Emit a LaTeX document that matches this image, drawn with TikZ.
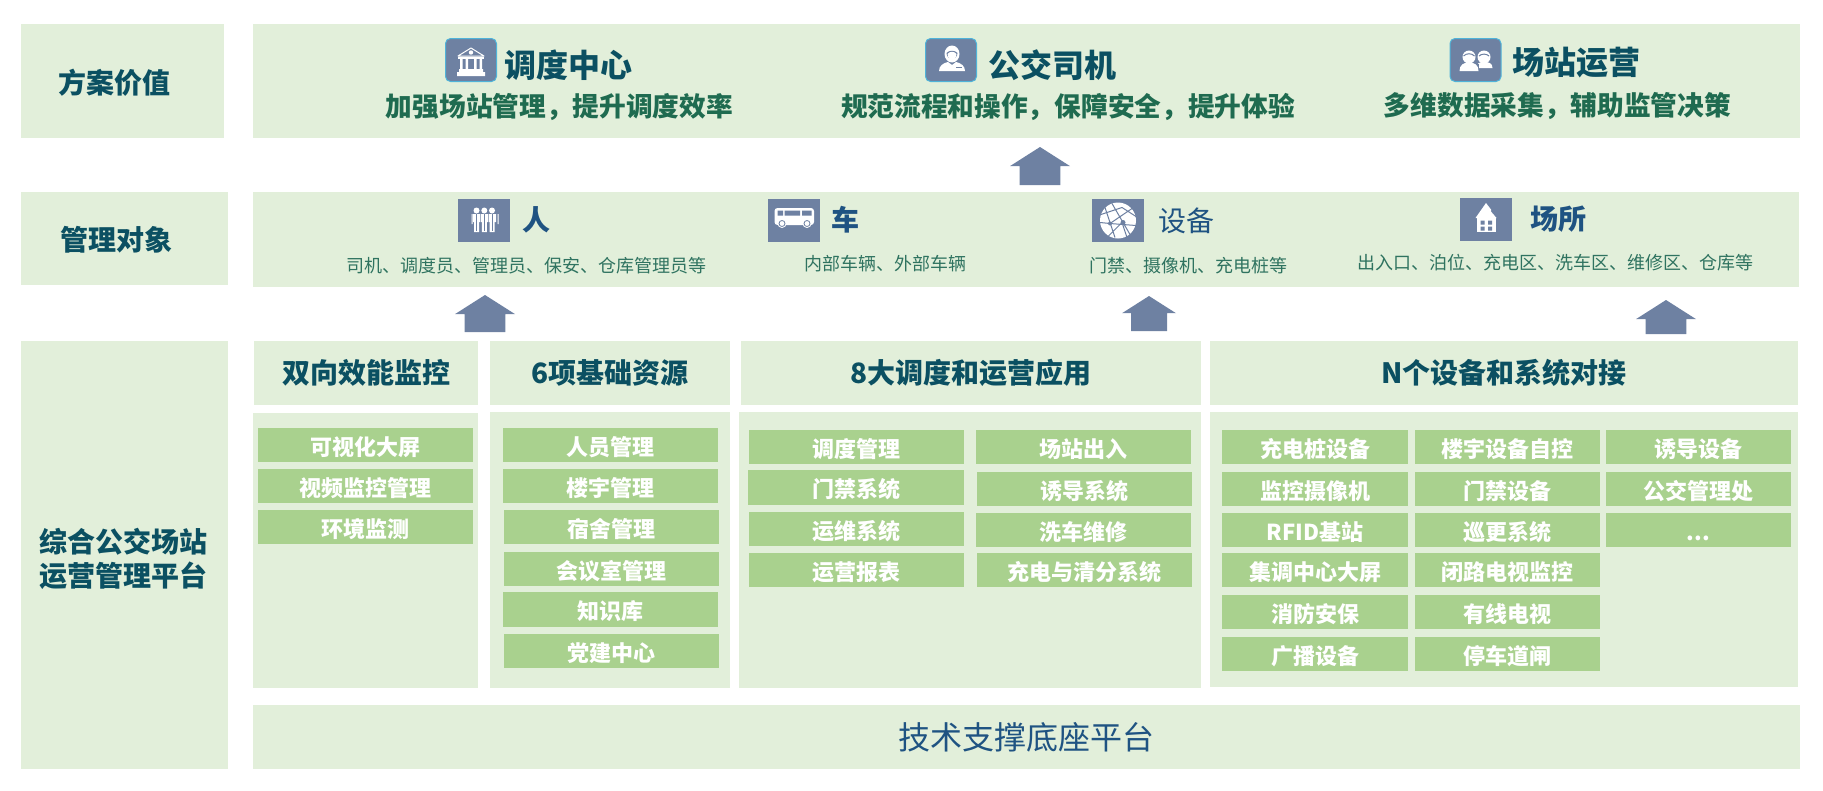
\documentclass[tikz,border=0pt]{standalone}
\usepackage{fontspec}
\setmainfont{Noto Sans CJK SC}
\usepackage{xcolor}
\usetikzlibrary{positioning}
\usetikzlibrary{shapes.arrows}
\definecolor{bandgreen}{HTML}{E2EFDA}
\definecolor{itemgreen}{HTML}{A9D18E}
\definecolor{slateblue}{HTML}{6E81A2}
\definecolor{iconedge}{HTML}{4FB3D9}
\definecolor{darkteal}{HTML}{0B5062}
\definecolor{deepgreen}{HTML}{1F6B50}
\definecolor{softgreen}{HTML}{2F7360}
\definecolor{titleblue}{HTML}{1F5382}

\begin{document}
\begin{tikzpicture}[
		x=1pt, y=-1pt,
		bandnode/.style={rectangle, fill=bandgreen, inner sep=0, outer sep=0},
		leftnode/.style={inner sep=0, text=darkteal, align=center, font=\fontsize{28pt}{34pt}\selectfont\bfseries},
		headnode/.style={bandnode, minimum height=64, text=darkteal, font=\fontsize{28pt}{34pt}\selectfont\bfseries},
		bodynode/.style={bandnode, minimum height=276},
		itemnode/.style={rectangle, fill=itemgreen, inner sep=0, outer sep=0, minimum height=34, text=white, text height=20pt, text depth=0pt, font=\fontsize{22pt}{26pt}\selectfont\bfseries},
		wideitem/.style={itemnode, minimum width=215},
		smallitem/.style={itemnode, minimum width=186},
		valueicon/.style={rectangle, rounded corners=5pt, fill=slateblue, draw=iconedge, line width=1pt, minimum width=51, minimum height=43, inner sep=0},
		objecticon/.style={rectangle, fill=slateblue, minimum width=52, minimum height=43, inner sep=0, outer sep=0},
		valuetitle/.style={inner sep=0, text=darkteal, font=\fontsize{32pt}{38pt}\selectfont\bfseries},
		valuetext/.style={inner sep=0, text=deepgreen, font=\fontsize{26.7pt}{32pt}\selectfont\bfseries},
		objecttitle/.style={inner sep=0, text=titleblue, font=\fontsize{28pt}{34pt}\selectfont\bfseries},
		objecttext/.style={inner sep=0, text=softgreen, font=\fontsize{18pt}{22pt}\selectfont},
		uparrow/.style={single arrow, shape border rotate=90, anchor=tip, fill=slateblue, inner xsep=15pt, inner ysep=0, outer sep=0, single arrow tip angle=115},
		]
		\useasboundingbox (0,0) rectangle (1823,790);

		%Left column
		\node[bandnode, minimum width=203, minimum height=114] (value-label)    at (122.5,81)  {};
		\node[bandnode, minimum width=207, minimum height=93]  (object-label)   at (124.5,238.5) {};
		\node[bandnode, minimum width=207, minimum height=428] (platform-label) at (124.5,555) {};
		\node[leftnode] (value-name)    at (114,83)    {方案价值};
		\node[leftnode] (object-name)   at (116,239.5) {管理对象};
		\node[leftnode] (platform-name) at (123.5,559) {综合公交场站\\运营管理平台};

		%Bands
		\node[bandnode, minimum width=1547, minimum height=114] (value-band)  at (1026.5,81)  {};
		\node[bandnode, minimum width=1546, minimum height=95]  (object-band) at (1026,239.5) {};
		\node[bandnode, minimum width=1547, minimum height=64, text=titleblue, font=\fontsize{32pt}{38pt}\selectfont] (base-band) at (1026.5,737) {技术支撑底座平台};

		%Value band
		\node[valueicon] (icon-dispatch) at (471,60)    {};
		\node[valueicon] (icon-driver)   at (951,60)    {};
		\node[valueicon] (icon-station)  at (1475.5,60) {};
		\node[valuetitle] (title-dispatch) [right=7pt of icon-dispatch, yshift=-5] {调度中心};
		\node[valuetitle] (title-driver)   [right=11pt of icon-driver, yshift=-5]  {公交司机};
		\node[valuetitle] (title-station)  [right=11pt of icon-station, yshift=-3]  {场站运营};
		\node[valuetext] (text-dispatch) at (559.5,107) {加强场站管理，提升调度效率};
		\node[valuetext] (text-driver)   at (1068,107)  {规范流程和操作，保障安全，提升体验};
		\node[valuetext] (text-station)  at (1557.5,106) {多维数据采集，辅助监管决策};

		%Object band
		\node[objecticon] (icon-people) at (483.5,220) {};
		\node[objecticon] (icon-bus)    at (794,220)   {};
		\node[objecticon] (icon-device) at (1118,220.5) {};
		\node[objecticon] (icon-place)  at (1486,219.5) {};
		\node[objecttitle] (title-people) [right=13pt of icon-people] {人};
		\node[objecttitle] (title-bus)    [right=11pt of icon-bus]    {车};
		\node[objecttitle, font=\fontsize{28pt}{34pt}\selectfont] (title-device) [right=14pt of icon-device] {设备};
		\node[objecttitle] (title-place)  [right=18pt of icon-place]  {场所};
		\node[objecttext] (text-people) at (526,266)  {司机、调度员、管理员、保安、仓库管理员等};
		\node[objecttext] (text-bus)    at (885,264)  {内部车辆、外部车辆};
		\node[objecttext] (text-device) at (1188.5,266) {门禁、摄像机、充电桩等};
		\node[objecttext] (text-place)  at (1555,263) {出入口、泊位、充电区、洗车区、维修区、仓库等};

		%Headers
		\node[headnode, minimum width=224] (head-monitor)  at (366,373)    {双向效能监控};
		\node[headnode, minimum width=240] (head-resource) at (610,373)    {6项基础资源};
		\node[headnode, minimum width=460] (head-apply)    at (971,373)    {8大调度和运营应用};
		\node[headnode, minimum width=588] (head-connect)  at (1504,373)   {N个设备和系统对接};

		%Bodies
		\node[bodynode, minimum width=225, minimum height=275] (body-monitor)  at (365.5,550.5) {};
		\node[bodynode, minimum width=240] (body-resource) at (610,550)     {};
		\node[bodynode, minimum width=462] (body-apply)    at (970,550)     {};
		\node[bodynode, minimum width=588, minimum height=275] (body-connect)  at (1504,549.5)  {};

		%Items, monitoring
		\node[wideitem] (monitor-1) at (365.5,445) {可视化大屏};
		\node[wideitem] (monitor-2) at (365.5,486) {视频监控管理};
		\node[wideitem] (monitor-3) at (365.5,527) {环境监测};

		%Items, resources
		\node[wideitem] (resource-1) at (610.5,445) {人员管理};
		\node[wideitem] (resource-2) at (610.5,486) {楼宇管理};
		\node[wideitem] (resource-3) at (611,527)   {宿舍管理};
		\node[wideitem] (resource-4) at (611,569)   {会议室管理};
		\node[wideitem, minimum height=35] (resource-5) at (610.5,609.5) {知识库};
		\node[wideitem] (resource-6) at (611.5,651) {党建中心};

		%Items, applications
		\node[wideitem] (apply-1) at (856.5,447)   {调度管理};
		\node[wideitem, minimum height=35, minimum width=216] (apply-2) at (856,487.5) {门禁系统};
		\node[wideitem] (apply-3) at (856.5,529)   {运维系统};
		\node[wideitem] (apply-4) at (856.5,570)   {运营报表};
		\node[wideitem] (apply-5) at (1083.5,447)  {场站出入};
		\node[wideitem] (apply-6) at (1084.5,489)  {诱导系统};
		\node[wideitem] (apply-7) at (1083.5,530)  {洗车维修};
		\node[wideitem] (apply-8) at (1084.5,570)  {充电与清分系统};

		%Items, connections
		\node[smallitem] (connect-1)  at (1315,447)   {充电桩设备};
		\node[smallitem] (connect-2)  at (1315,489)   {监控摄像机};
		\node[smallitem] (connect-3)  at (1315,530)   {RFID基站};
		\node[smallitem] (connect-4)  at (1315,570)   {集调中心大屏};
		\node[smallitem] (connect-5)  at (1315,612)   {消防安保};
		\node[smallitem] (connect-6)  at (1315,654)   {广播设备};
		\node[smallitem, minimum width=185] (connect-7)  at (1507.5,447)  {楼宇设备自控};
		\node[smallitem, minimum width=185] (connect-8)  at (1507.5,489)  {门禁设备};
		\node[smallitem, minimum width=185] (connect-9)  at (1507.5,530)  {巡更系统};
		\node[smallitem, minimum width=185] (connect-10) at (1507.5,570)  {闭路电视监控};
		\node[smallitem, minimum width=185] (connect-11) at (1507.5,612)  {有线电视};
		\node[smallitem, minimum width=185] (connect-12) at (1507.5,654)  {停车道闸};
		\node[smallitem, minimum width=185] (connect-13) at (1698.5,447)  {诱导设备};
		\node[smallitem, minimum width=185] (connect-14) at (1698.5,489)  {公交管理处};
		\node[smallitem, minimum width=185] (connect-15) at (1698.5,530)  {...};

		%Arrows
		\node[uparrow, minimum height=38, minimum width=60] (arrow-value)   at (1040,147) {};
		\node[uparrow, minimum height=37, minimum width=60] (arrow-monitor) at (485,295)  {};
		\node[uparrow, minimum height=35, minimum width=54, inner xsep=14pt] (arrow-device)  at (1149,296) {};
		\node[uparrow, minimum height=34, minimum width=60] (arrow-place)   at (1666,300) {};

		%Bank icon
		\begin{scope}[shift={(icon-dispatch.center)}]
			\draw[white, line width=1pt, line join=round] (0,-12) -- (13,-4) -- (-13,-4) -- cycle;
			\fill[white] (0,-7.5) circle (2.2);
			\fill[white] (-13,-3) rectangle (13,-1);
			\fill[white] (-11,-1) rectangle (-8.5,9) (-5.5,-1) rectangle (-3,9) (3,-1) rectangle (5.5,9) (8.5,-1) rectangle (11,9);
			\fill[white] (-12,9) rectangle (12,12) (-14,12) rectangle (14,16);
		\end{scope}

		%Driver icon
		\begin{scope}[shift={(icon-driver.center)}]
			\fill[white] (1,-6) ellipse (7.5 and 8.5);
			\fill[slateblue] (-4.5,-7) .. controls (-2,-10) and (4,-10) .. (6.5,-7) .. controls (6,1) and (-4,1) .. (-4.5,-7);
			\fill[white] (-3.5,-6) .. controls (-1,-9) and (3,-9) .. (5.5,-6) .. controls (5,2) and (-3,2) .. (-3.5,-6);
			\fill[white] (-12,11) .. controls (-12,6) and (-8,3) .. (-3,2) -- (1,5) -- (5,2) .. controls (10,3) and (14,6) .. (14,11) -- cycle;
			\fill[slateblue] (5,6.5) rectangle (11,8);
		\end{scope}

		%Two people icon
		\begin{scope}[shift={(icon-station.center)}]
			\fill[white] (8.5,-3) circle (6.5);
			\fill[white] (1,8) .. controls (1,3) and (4,2) .. (8.5,2) .. controls (13,2) and (17,3) .. (17,8) -- cycle;
			\fill[slateblue] (-6.5,-3) circle (8);
			\fill[white] (-6.5,-3) circle (6.5);
			\draw[slateblue, line width=1pt] (-12,-4) .. controls (-9,-7) and (-4,-7) .. (-1,-4);
			\draw[slateblue, line width=1pt] (3.5,-4) .. controls (6,-6.5) and (11,-6.5) .. (13.5,-4);
			\fill[slateblue] (-17,12) -- (-17,4) -- (3,4) -- (3,12) -- cycle;
			\fill[white] (-16,11) .. controls (-16,5) and (-12,2.5) .. (-6.5,2.5) .. controls (-1,2.5) and (3,5) .. (3,11) -- cycle;
		\end{scope}

		%People icon
		\begin{scope}[shift={(icon-people.center)}]
			\fill[white] (-7,-9.5) circle (3) (0.8,-9.5) circle (3) (8.5,-9.5) circle (3);
			\fill[white] (-12,-6) rectangle (-11,4) (14,-6) rectangle (15,4);
			\fill[white] (-10.5,-6) rectangle (-3.5,2) (-2.7,-6) rectangle (4.3,2) (5,-6) rectangle (12.5,2);
			\fill[white] (-9.5,2) rectangle (-4.5,12) (-1.7,2) rectangle (3.3,12) (6,2) rectangle (11,12);
			\draw[slateblue, line width=.8pt] (-7,-6) -- (-7,11) (0.8,-6) -- (0.8,11) (8.5,-6) -- (8.5,11);
		\end{scope}

		%Bus icon
		\begin{scope}[shift={(icon-bus.center)}]
			\fill[white, rounded corners=3pt] (-19.5,-12) rectangle (20,5);
			\fill[slateblue] (-16.5,-9.5) rectangle (-11,-4.5) (-9.5,-9.5) rectangle (6,-4.5) (8,-9.5) rectangle (17.5,-4.5);
			\fill[white] (-12,3.5) circle (4.5) (13,3.5) circle (4.5);
			\draw[slateblue, line width=.8pt] (-12,3.5) circle (3) (13,3.5) circle (3);
		\end{scope}

		%Network icon
		\begin{scope}[shift={(icon-device.center)}]
			\fill[white] (0,0) circle (18);
			\draw[slateblue, line width=1pt] (-13,-13) -- (-3,17) (-6,-17) -- (12,14) (14,-12) -- (-8,3) -- (18,5) (-17,-6) -- (4,-13) (-18,2) -- (-8,3) (4,-13) -- (18,-4) (-10,16) -- (4,2) (4,2) -- (9,17);
			\fill[slateblue] (5,2) circle (2.5) (-8,3) circle (2);
		\end{scope}

		%House icon
		\begin{scope}[shift={(icon-place.center)}]
			\fill[white] (0,-16.5) -- (5,-10) -- (5,-8) -- (10.5,-1.5) -- (-10.5,-1.5) -- cycle;
			\fill[white] (-9.5,-1.5) rectangle (10,12.5);
			\fill[slateblue] (-5.5,1) rectangle (-1.5,5) (2,1) rectangle (6,5) (-5.5,7) rectangle (-1.5,11) (2,7) rectangle (6,11);
		\end{scope}
	\end{tikzpicture}
\end{document}
